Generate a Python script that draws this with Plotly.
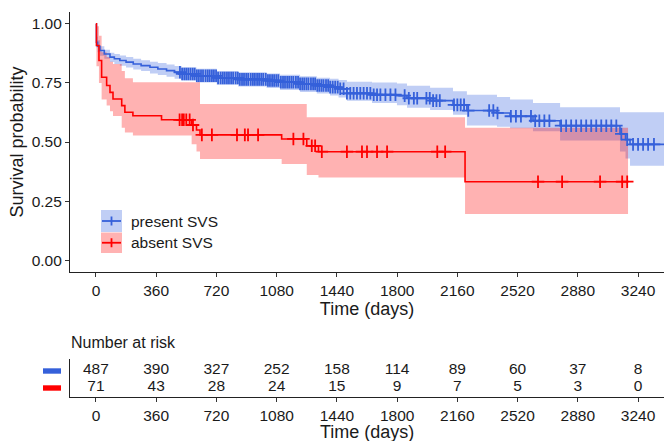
import numpy as np
import plotly.graph_objects as go

# ---------------- data ----------------
blue_t = [0, 3, 10, 24, 50, 84, 110, 143, 180, 223, 270, 323, 370, 422, 470, 512, 600, 722, 850,
          1020, 1100, 1220, 1320, 1399, 1450, 1500, 1650, 1799, 1859, 1997, 2134, 2217, 2397,
          2475, 2612, 2774, 3132, 3165, 3192, 3420]
blue_s = [1.0, 0.922, 0.905, 0.887, 0.872, 0.859, 0.852, 0.845, 0.838, 0.83, 0.823, 0.816, 0.809,
          0.802, 0.795, 0.788, 0.78, 0.771, 0.765, 0.760, 0.753, 0.746, 0.739, 0.732, 0.725, 0.706,
          0.700, 0.696, 0.685, 0.675, 0.657, 0.633, 0.623, 0.609, 0.59, 0.569, 0.534, 0.51, 0.49, 0.49]
blue_hi = [1.0, 0.945, 0.93, 0.905, 0.89, 0.878, 0.872, 0.866, 0.86, 0.852, 0.846, 0.84, 0.834,
           0.828, 0.822, 0.816, 0.81, 0.80, 0.795, 0.79, 0.785, 0.778, 0.772, 0.768, 0.762, 0.755,
           0.752, 0.748, 0.738, 0.73, 0.715, 0.70, 0.69, 0.68, 0.665, 0.647, 0.626, 0.626, 0.626, 0.626]
blue_lo = [1.0, 0.90, 0.88, 0.865, 0.852, 0.838, 0.83, 0.823, 0.815, 0.807, 0.80, 0.79, 0.783,
           0.776, 0.768, 0.76, 0.752, 0.742, 0.735, 0.728, 0.72, 0.712, 0.705, 0.697, 0.688, 0.675,
           0.665, 0.655, 0.645, 0.635, 0.615, 0.57, 0.565, 0.558, 0.545, 0.506, 0.46, 0.43, 0.40, 0.40]
blue_censor = [502, 515, 528, 540, 552, 565, 578, 590, 603, 615, 628, 640, 655, 668, 680, 693, 705,
               718, 730, 745, 758, 770, 783, 795, 808, 820, 835, 848, 860, 873, 885, 898, 910, 925,
               938, 950, 963, 975, 988, 1000, 1015, 1028, 1040, 1053, 1065, 1078, 1090, 1105, 1118,
               1130, 1143, 1155, 1168, 1180, 1195, 1208, 1220, 1233, 1245, 1258, 1270, 1285, 1298,
               1310, 1323, 1335, 1348, 1360, 1375, 1388, 1400, 1415, 1430, 1445, 1460, 1480, 1500,
               1520, 1540, 1560, 1580, 1600, 1620, 1640, 1660, 1680, 1700, 1730, 1760, 1790, 1845,
               1870, 1900, 1920, 1975, 1995, 2015, 2035, 2055, 2140, 2160, 2180, 2200, 2225, 2350,
               2375, 2400, 2480, 2510, 2540, 2600, 2625, 2650, 2680, 2710, 2780, 2810, 2840, 2870,
               2900, 2930, 2960, 2990, 3020, 3050, 3080, 3110, 3140, 3175, 3210, 3240, 3270, 3300, 3335]

red_t = [0, 3, 18, 34, 64, 84, 102, 154, 173, 221, 392, 572, 601, 622, 1110, 1260, 1330, 2206, 3180]
red_s = [1.0, 0.908, 0.845, 0.774, 0.739, 0.71, 0.682, 0.654, 0.626, 0.611, 0.594, 0.572, 0.551,
         0.53, 0.513, 0.484, 0.459, 0.332, 0.332]
red_hi = [1.0, 0.99, 0.95, 0.88, 0.86, 0.84, 0.83, 0.80, 0.77, 0.753, 0.753, 0.753, 0.753, 0.661,
          0.661, 0.605, 0.605, 0.56, 0.56]
red_lo = [1.0, 0.82, 0.75, 0.68, 0.654, 0.63, 0.61, 0.56, 0.54, 0.527, 0.527, 0.49, 0.46, 0.428,
          0.407, 0.36, 0.35, 0.195, 0.195]
red_censor = [500, 515, 525, 540, 560, 580, 633, 693, 843, 890, 909, 969, 1180, 1240, 1290, 1310,
              1350, 1500, 1590, 1620, 1680, 1740, 2040, 2087, 2642, 2786, 3013, 3145, 3175]

risk_times = [0, 360, 720, 1080, 1440, 1800, 2160, 2520, 2880, 3240]
risk_present = [487, 390, 327, 252, 158, 114, 89, 60, 37, 8]
risk_absent = [71, 43, 28, 24, 15, 9, 7, 5, 3, 0]

groups = ["present SVS", "absent SVS"]

# ---------------- style ----------------
BLUE = "#3560DA"
RED = "#FF0000"
BLUE_FILL = "rgba(65,105,225,0.33)"
RED_FILL = "rgba(255,0,0,0.30)"
FONT = "Liberation Sans, Arial, sans-serif"
TXT = "#1a1a1a"
TICK_SIZE = 15.5
TITLE_SIZE = 18

W, H = 664, 441
L, R, T, B = 70, 0, 12, 44
PW, PH = W - L - R, H - T - B


def px(x):
    return (x - L) / PW


def py(y):
    return (H - B - y) / PH


def step_at(ts, ss, t):
    i = np.searchsorted(np.asarray(ts), t, side="right") - 1
    return np.asarray(ss)[i]


fig = go.Figure()

for t, s, hi, lo, cens, col, fillc in [
    (blue_t, blue_s, blue_hi, blue_lo, blue_censor, BLUE, BLUE_FILL),
    (red_t, red_s, red_hi, red_lo, red_censor, RED, RED_FILL),
]:
    fig.add_trace(go.Scatter(x=t, y=hi, mode="lines", line=dict(width=0, shape="hv"),
                             hoverinfo="skip", showlegend=False, xaxis="x", yaxis="y"))
    fig.add_trace(go.Scatter(x=t, y=lo, mode="lines", line=dict(width=0, shape="hv"),
                             fill="tonexty", fillcolor=fillc, hoverinfo="skip",
                             showlegend=False, xaxis="x", yaxis="y"))

for t, s, cens, col in [(blue_t, blue_s, blue_censor, BLUE), (red_t, red_s, red_censor, RED)]:
    fig.add_trace(go.Scatter(x=t, y=s, mode="lines", line=dict(width=1.6, color=col, shape="hv"),
                             showlegend=False, xaxis="x", yaxis="y"))
    fig.add_trace(go.Scatter(x=cens, y=step_at(t, s, cens), mode="markers",
                             marker=dict(symbol="cross-thin", size=9,
                                         line=dict(width=1.8, color=col)),
                             showlegend=False, xaxis="x", yaxis="y"))

# risk table numbers
fig.add_trace(go.Scatter(x=risk_times, y=[2] * len(risk_times), mode="text",
                         text=[str(v) for v in risk_present],
                         textfont=dict(family=FONT, size=15.5, color=TXT),
                         showlegend=False, xaxis="x2", yaxis="y2"))
fig.add_trace(go.Scatter(x=risk_times, y=[1] * len(risk_times), mode="text",
                         text=[str(v) for v in risk_absent],
                         textfont=dict(family=FONT, size=15.5, color=TXT),
                         showlegend=False, xaxis="x2", yaxis="y2"))

xr = [-155, 3395]
tick_vals = risk_times
axis_common = dict(showline=True, linecolor="#222", linewidth=1.2, ticks="outside",
                   ticklen=4, tickcolor="#333", tickwidth=1, showgrid=False, zeroline=False,
                   tickfont=dict(family=FONT, size=TICK_SIZE, color=TXT))

main_bottom = py(272)
risk_top = py(359)

fig.update_layout(
    width=W, height=H,
    margin=dict(l=L, r=R, t=T, b=B),
    paper_bgcolor="white", plot_bgcolor="white",
    font=dict(family=FONT, size=15, color=TXT),
    showlegend=False,
    xaxis=dict(range=xr, tickvals=tick_vals, domain=[0, 1], anchor="y",
               title=dict(text="Time (days)", font=dict(size=TITLE_SIZE), standoff=2),
               **axis_common),
    yaxis=dict(range=[-0.05, 1.05], tickvals=[0, 0.25, 0.5, 0.75, 1.0],
               ticktext=["0.00", "0.25", "0.50", "0.75", "1.00"], domain=[main_bottom, 1],
               anchor="x", title=dict(text="Survival probability", font=dict(size=TITLE_SIZE),
                                      standoff=3),
               **axis_common),
    xaxis2=dict(range=xr, tickvals=tick_vals, domain=[0, 1], anchor="y2", **axis_common),
    yaxis2=dict(range=[0.375, 2.69], domain=[0, risk_top], anchor="x2", showline=True,
                linecolor="#222", linewidth=1.2, showticklabels=False, ticks="",
                showgrid=False, zeroline=False),
)

shapes = []
annos = []
# legend
for i, (g, col, fillc) in enumerate([(groups[0], BLUE, BLUE_FILL), (groups[1], RED, RED_FILL)]):
    y0, y1 = 210 + i * 22.5, 232 + i * 21
    yc = (y0 + y1) / 2
    shapes.append(dict(type="rect", xref="paper", yref="paper", x0=px(101), x1=px(122),
                       y0=py(y1), y1=py(y0), fillcolor=fillc, line=dict(width=0), layer="above"))
    shapes.append(dict(type="line", xref="paper", yref="paper", x0=px(102), x1=px(121),
                       y0=py(yc), y1=py(yc), line=dict(color=col, width=1.8), layer="above"))
    shapes.append(dict(type="line", xref="paper", yref="paper", x0=px(111.5), x1=px(111.5),
                       y0=py(yc + 4.5), y1=py(yc - 4.5), line=dict(color=col, width=1.8),
                       layer="above"))
    annos.append(dict(text=g, xref="paper", yref="paper", x=px(129), y=py(yc), xanchor="left",
                      yanchor="middle", showarrow=False,
                      font=dict(family=FONT, size=15.5, color=TXT)))
    # risk table colour keys
    ry = 371 + i * 17
    shapes.append(dict(type="rect", xref="paper", yref="paper", x0=px(43), x1=px(61),
                       y0=py(ry + 2.7), y1=py(ry - 2.7), fillcolor=col, line=dict(width=0)))

annos.append(dict(text="Number at risk", xref="paper", yref="paper", x=px(69), y=py(342),
                  xanchor="left", yanchor="middle", showarrow=False,
                  font=dict(family=FONT, size=16, color=TXT)))
# risk-table x-axis title
annos.append(dict(text="Time (days)", xref="paper", yref="paper", x=px(367), y=py(432),
                  xanchor="center", yanchor="middle", showarrow=False,
                  font=dict(family=FONT, size=TITLE_SIZE, color=TXT)))

fig.update_layout(shapes=shapes, annotations=annos)
fig.write_html("out.html")
